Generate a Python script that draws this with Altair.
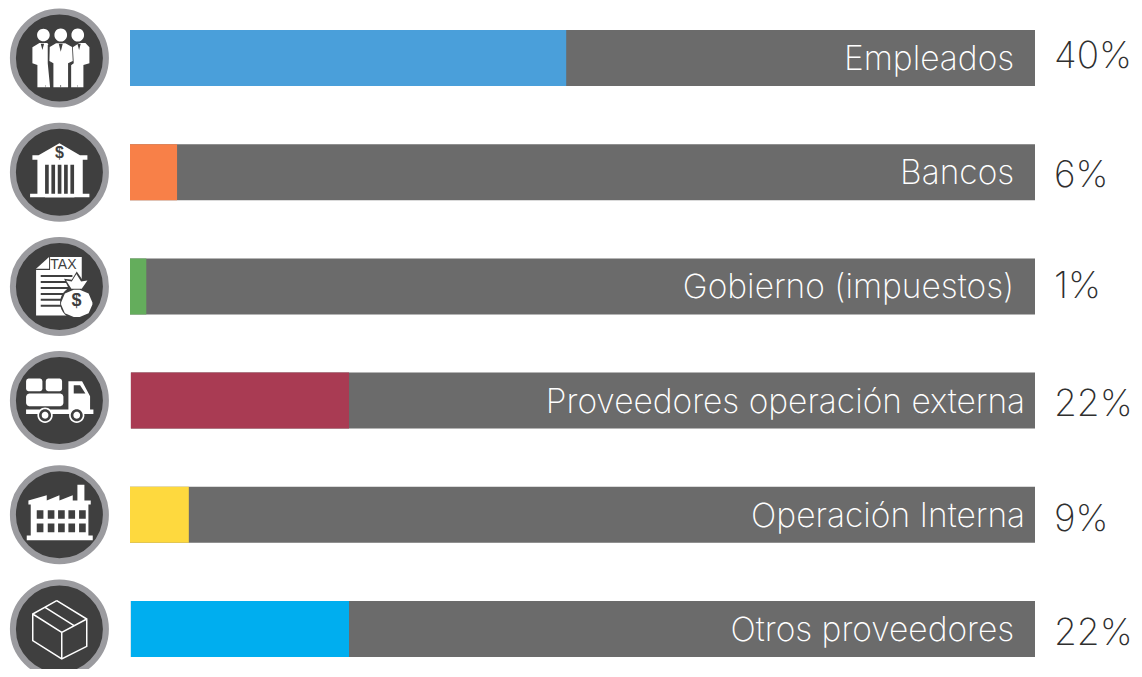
import altair as alt
import pandas as pd

# ---------- data ----------
categories = ["Empleados", "Bancos", "Gobierno (impuestos)", "Proveedores operación externa", "Operación Interna", "Otros proveedores"]
percent_labels = ["40%", "6%", "1%", "22%", "9%", "22%"]
# bar fill, in percent of the grey track
fill_start = [0, 0, 0, 0.1, 0, 0.1]
fill_end = [48.2, 5.2, 1.8, 24.2, 6.5, 24.2]
colors = ["#4a9fda", "#f88048", "#64ad5c", "#a93b53", "#fed93e", "#00aeef"]

# ---------- style ----------
DARK = "#3f3f3f"
RING = "#9b9b9f"
TRACK = "#6b6b6b"
label_end = [97.7, 97.7, 97.7, 98.9, 98.9, 97.7]
pct_dy = [-1, 3.5, 1, 4.5, 5, 5]
ICON_X = -7.8
PCT_X = 102.1

xs = alt.Scale(domain=[0, 100], range=[122, 1027])
ys = alt.Scale(domain=categories, range=[22, 649], paddingInner=0.5096, paddingOuter=0)
X = lambda f: alt.X(f, type="quantitative", scale=xs, axis=None)
Y = alt.Y("cat:N", scale=ys, axis=None, sort=None)

df = pd.DataFrame({
    "cat": categories, "pct": percent_labels, "a": fill_start, "b": fill_end,
    "color": colors, "full": 100.0, "lab": label_end,
    "icon": ICON_X, "pctx": PCT_X,
})

# ---------- icon geometry helpers (local units are 3x pixels around circle centre) ----------
def u(v):
    return round(v / 3 / 50, 4)
def poly(pts):
    return "M" + " L".join(f"{u(x)},{u(y)}" for x, y in pts) + " Z"
def line(pts):
    return "M" + " L".join(f"{u(x)},{u(y)}" for x, y in pts)
def rect(x, y, w, h):
    return poly([(x, y), (x + w, y), (x + w, y + h), (x, y + h)])
def circ(x, y, r):
    return (f"M{u(x-r)},{u(y)} A{u(r)},{u(r)} 0 1 1 {u(x+r)},{u(y)} "
            f"A{u(r)},{u(r)} 0 1 1 {u(x-r)},{u(y)} Z")
def rrect(x, y, w, h, r):
    k = r * 0.3
    return poly([(x + r, y), (x + w - r, y), (x + w - k, y + k), (x + w, y + r), (x + w, y + h - r),
                 (x + w - k, y + h - k), (x + w - r, y + h), (x + r, y + h), (x + k, y + h - k),
                 (x, y + h - r), (x, y + r), (x + k, y + k)])
def join(*p):
    return " ".join(p)
def off(pts, cx=178, cy=174):
    return [(x - cx, y - cy) for x, y in pts]

# people
people_white = join(
    circ(130 - 178, 105 - 174, 19), circ(182 - 178, 105 - 174, 19), circ(233 - 178, 105 - 174, 19),
    poly(off([(97, 142), (118, 129), (142, 129), (150, 145), (150, 262), (112, 262), (112, 195), (97, 190)])),
    poly(off([(218, 142), (238, 129), (256, 129), (268, 142), (268, 190), (250, 195), (250, 262), (213, 262), (213, 145)])),
)
people_dark = join(
    poly(off([(143, 135), (150, 135), (150, 190), (158, 196), (158, 262), (150, 262), (143, 190)])),
    poly(off([(210, 135), (218, 135), (221, 190), (213, 196), (213, 262), (205, 262), (205, 190)])),
)
people_white2 = join(
    poly(off([(149, 141), (168, 130), (196, 130), (216, 141), (218, 183), (204, 190), (204, 262), (160, 262), (160, 190), (148, 183)])),
)
people_dark2 = join(
    poly(off([(176, 131), (188, 131), (182, 155)])),
    poly(off([(122, 131), (132, 131), (127, 150)])),
    poly(off([(232, 131), (242, 131), (237, 150)])),
    rect(135 - 178, 255 - 174, 1, 7), rect(181 - 178, 255 - 174, 2, 7), rect(231 - 178, 255 - 174, 1, 7),
)

# bank
b = lambda pts: off(pts, 178, 517)
bank_white = join(
    poly(b([(105, 472), (178, 430), (250, 472)])),
    rect(97 - 178, 466 - 517, 165, 14),
    rect(112 - 178, 478 - 517, 136, 110),
    rect(90 - 178, 582 - 517, 178, 10),
    rect(135 - 178, 575 - 517, 88, 18),
)
bank_dark = join(*[rect(x - 178, 495 - 517, 11, 87) for x in (135, 154, 173, 192, 211)])

# tax
t = lambda pts: off(pts, 178, 175)
tax_white = poly(t([(108, 122), (147, 87), (245, 87), (245, 262), (108, 262)]))
tax_dark = join(
    poly(t([(108, 122), (147, 122), (147, 87), (150, 87), (150, 126), (108, 126)])),
    *[rect(122 - 178, y - 175, 95, 6) for y in (141, 159, 177, 195, 212, 230)],
    circ(230 - 178, 224 - 175, 50),
    poly(t([(192, 152), (215, 155), (230, 130), (247, 155), (268, 152), (250, 190), (210, 190)])),
)
tax_white2 = join(
    rrect(183 - 178, 185 - 175, 94, 82, 38),
    poly(t([(198, 157), (215, 160), (229, 138), (243, 160), (262, 157), (245, 182), (214, 182)])),
)

# truck
k = lambda pts: off(pts, 178, 518)
truck_white = join(
    rrect(78 - 178, 452 - 518, 49, 38, 7), rrect(137 - 178, 452 - 518, 49, 38, 7),
    rrect(78 - 178, 497 - 518, 112, 38, 9),
    poly(k([(205, 460), (246, 460), (270, 505), (270, 545), (205, 545)])),
    rect(78 - 178, 545 - 518, 202, 13),
    circ(135 - 178, 562 - 518, 23), circ(230 - 178, 562 - 518, 23),
)
truck_dark = join(
    poly(k([(221, 472), (240, 472), (256, 497), (221, 497)])),
    circ(135 - 178, 562 - 518, 18), circ(230 - 178, 562 - 518, 18),
)
truck_white2 = join(circ(135 - 178, 562 - 518, 10), circ(230 - 178, 562 - 518, 10))

# factory
f = lambda pts: off(pts, 178, 178)
factory_white = join(
    poly(f([(85, 135), (140, 119), (140, 135), (178, 119), (178, 135), (218, 119), (218, 135), (232, 135), (232, 88), (253, 88), (253, 135), (272, 135), (272, 147), (265, 147), (265, 240), (278, 240), (278, 254), (80, 254), (80, 240), (92, 240), (92, 147), (85, 147)])),
)
factory_dark = join(*[rect(x - 178, y - 178, 20, 26) for x in (110, 143, 174, 205, 237) for y in (164, 204)])

# box
c = lambda pts: off(pts, 178, 520)
box_lines = join(
    line(c([(170, 435), (260, 490), (260, 572), (185, 610), (98, 555), (98, 475), (170, 435)])),
    line(c([(98, 475), (185, 530), (260, 490)])),
    line(c([(185, 530), (185, 610)])),
    line(c([(135, 455), (222, 510)])),
)

icon_layers = [
    (0, people_white, "white"), (0, people_dark, DARK), (0, people_white2, "white"), (0, people_dark2, DARK),
    (1, bank_white, "white"), (1, bank_dark, DARK),
    (2, tax_white, "white"), (2, tax_dark, DARK), (2, tax_white2, "white"),
    (3, truck_white, "white"), (3, truck_dark, DARK), (3, truck_white2, "white"),
    (4, factory_white, "white"), (4, factory_dark, DARK),
]

# ---------- layers ----------
track = alt.Chart(df).mark_bar(color=TRACK, opacity=1).encode(x=X("a"), x2="full", y=Y)
fill = alt.Chart(df).mark_bar(opacity=1).encode(x=X("a"), x2="b", y=Y, color=alt.Color("color:N", scale=None))
labels = alt.Chart(df).mark_text(align="right", baseline="middle", font="Inter", fontWeight=200, fontSize=33.5, color="white", dy=2).encode(
    x=X("lab"), y=Y, text="cat:N")
rings = alt.Chart(df).mark_point(shape="circle", filled=True, size=8650, fill=DARK, stroke=RING, strokeWidth=6, opacity=1).encode(x=X("icon"), y=Y)

layers = [track, fill, labels, rings]
for i, dy in enumerate(pct_dy):
    layers.append(alt.Chart(df.iloc[[i]]).mark_text(align="left", baseline="middle", font="Inter", fontWeight=200, fontSize=37, color="#2f2f2f", dy=dy).encode(
        x=X("pctx"), y=Y, text="pct:N"))
for row, path, col in icon_layers:
    layers.append(alt.Chart(df.iloc[[row]]).mark_point(shape=path, size=10000, filled=True, fill=col, opacity=1, strokeWidth=0).encode(x=X("icon"), y=Y))
layers.append(alt.Chart(df.iloc[[5]]).mark_point(shape=box_lines, size=10000, filled=False, stroke="white", strokeWidth=1.5, opacity=1).encode(x=X("icon"), y=Y))
layers.append(alt.Chart(df.iloc[[1]]).mark_text(text="$", font="Liberation Sans", fontSize=16, fontWeight="bold", color=DARK, dy=-19).encode(x=X("icon"), y=Y))
layers.append(alt.Chart(df.iloc[[2]]).mark_text(text="TAX", font="Liberation Sans", fontSize=14, color=DARK, dy=-21, dx=4).encode(x=X("icon"), y=Y))
layers.append(alt.Chart(df.iloc[[2]]).mark_text(text="$", font="Liberation Sans", fontSize=18, fontWeight="bold", color=DARK, dy=15, dx=17).encode(x=X("icon"), y=Y))

chart = alt.layer(*layers).properties(
    width=1126, height=661, padding=0, autosize=alt.AutoSizeParams(type="none"),
    background="white",
).configure_view(stroke=None)

chart.save("out.html", embed_options={"renderer": "svg", "actions": False})
